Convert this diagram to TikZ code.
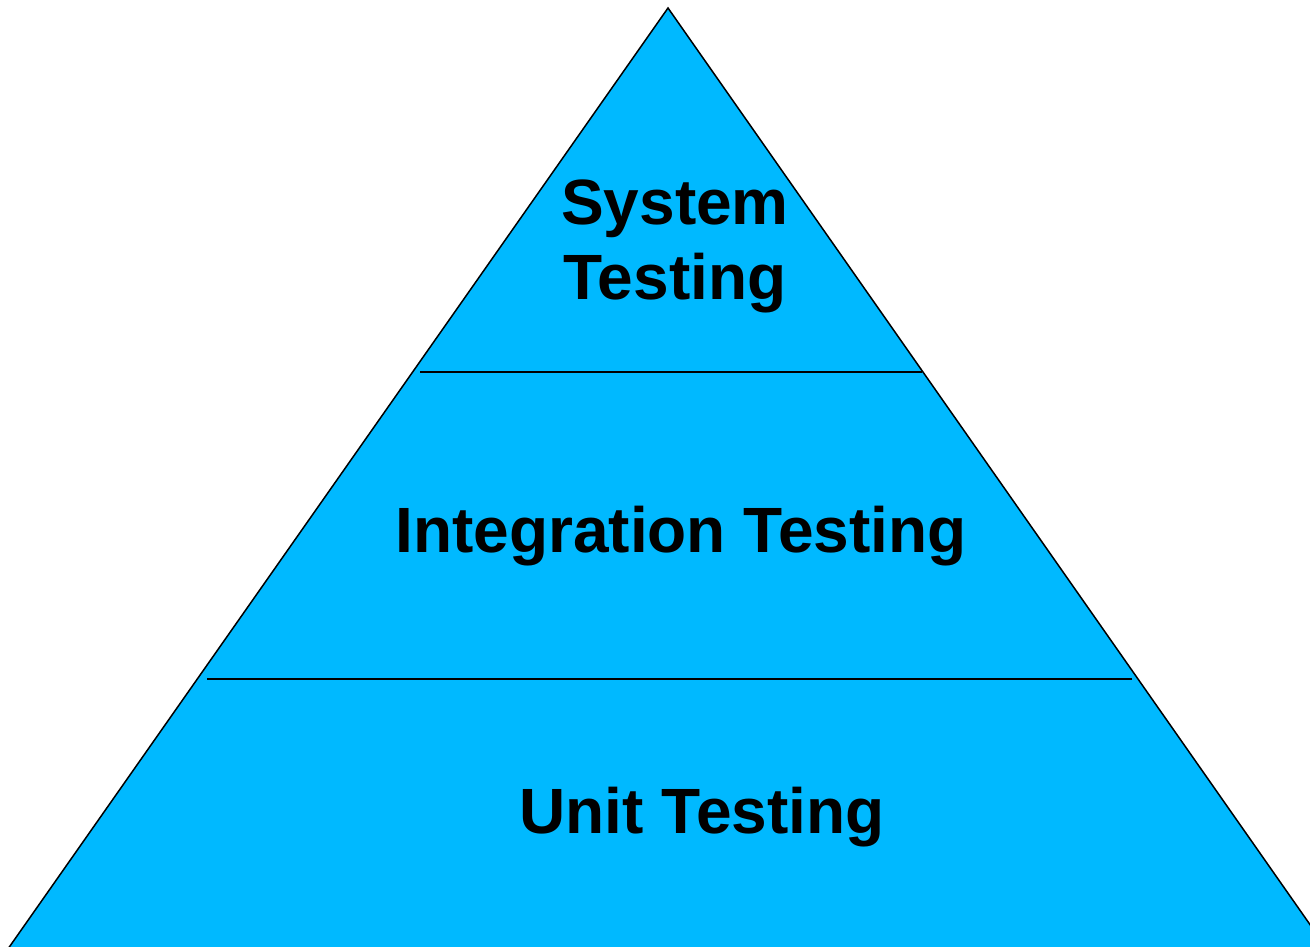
\documentclass[tikz,border=0pt]{standalone}
\usepackage{fontspec}
\setmainfont{Liberation Sans}
\definecolor{pyramidblue}{RGB}{0,185,255}
\tikzset{
  level/.style={font=\fontsize{64}{75}\selectfont\bfseries, inner sep=0pt, align=center},
}
\begin{document}
\begin{tikzpicture}[x=1pt,y=1pt]
    \useasboundingbox (0,0) rectangle (1310,946);
    \clip (0,0) rectangle (1310,946);
    \draw [line width=1.5pt][fill=pyramidblue] (6.5,-5) -- (668,938) -- (1328.5,-5) -- cycle;
    \draw [line width=1.5pt] (420,574) -- (922,574);
    \draw [line width=1.5pt] (207,267) -- (1132,267);
    \node [level] (system) at (675,700) {System\\Testing};
    \node [level, anchor=base] (integration) at (681,393) {Integration Testing};
    \node [level, anchor=base] (unit) at (702,113) {Unit Testing};
\end{tikzpicture}
\end{document}
